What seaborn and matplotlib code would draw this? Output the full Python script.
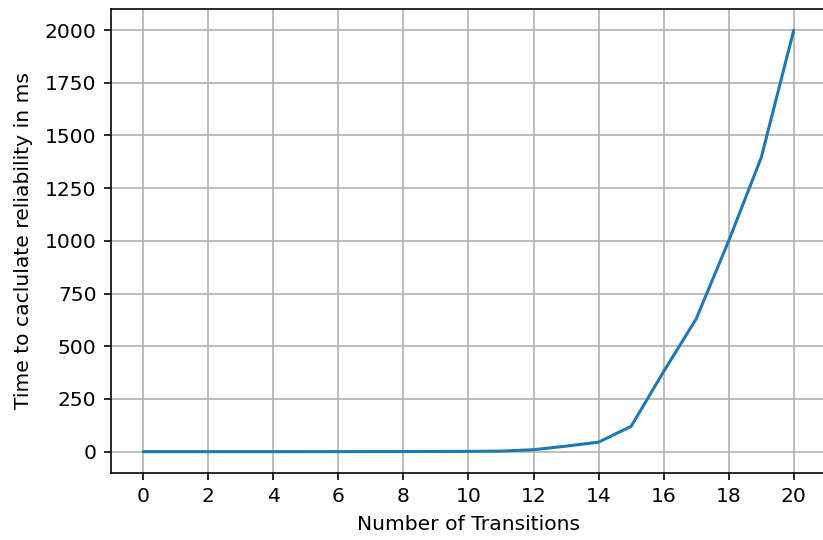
import matplotlib
matplotlib.use("Agg")
import matplotlib.pyplot as plt
import seaborn as sns
import pandas as pd

# Reliability computation time by number of transitions
transitions = list(range(0, 21))
time_ms = [0.0, 0.0, 0.0, 0.0, 0.0, 0.0, 0.1, 0.2, 0.4, 0.8, 1.2, 2.5,
           9, 26, 45, 120, 380, 630, 1000, 1395, 2000]
x_ticks = list(range(0, 21, 2))
y_ticks = [0, 250, 500, 750, 1000, 1250, 1500, 1750, 2000]

df = pd.DataFrame({"transitions": transitions, "time_ms": time_ms})

sns.set_style("ticks")
plt.rcParams["font.family"] = ["DejaVu Sans"]
plt.rcParams["xtick.direction"] = "out"
plt.rcParams["ytick.direction"] = "out"
plt.rcParams["axes.labelcolor"] = "black"
plt.rcParams["text.color"] = "black"

k = 1.46  # scale factor for line widths and text
W, H = 823, 540
fig = plt.figure(figsize=(W / 100, H / 100), dpi=100)
# axes box in pixels: left 110.7, top 9, bottom 472.7, right runs past the edge
left, right, top, bottom = 110.7, 826.3, 9.0, 472.7
ax = fig.add_axes([left / W, 1 - bottom / H, (right - left) / W, (bottom - top) / H])

sns.lineplot(data=df, x="transitions", y="time_ms", ax=ax,
             color="#1f77b4", linewidth=1.5 * k)

ax.set_xticks(x_ticks)
ax.set_yticks(y_ticks)
ax.set_xlim(-1, 21)
ax.set_ylim(-100, 2100)
ax.grid(True, color="#b0b0b0", linewidth=0.8 * k)
ax.set_axisbelow(True)
for s in ax.spines.values():
    s.set_visible(True)
    s.set_color("black")
    s.set_linewidth(0.8 * k)
ax.tick_params(colors="black", labelsize=10 * k, length=3.5 * k,
               width=0.8 * k, pad=3.5 * k)
ax.set_xlabel("Number of Transitions", fontsize=10 * k, labelpad=4.6 * k,
              color="black")
ax.set_ylabel("Time to caclulate reliability in ms", fontsize=10 * k,
              labelpad=5.5 * k, color="black")

fig.savefig("out.png", dpi=100)
